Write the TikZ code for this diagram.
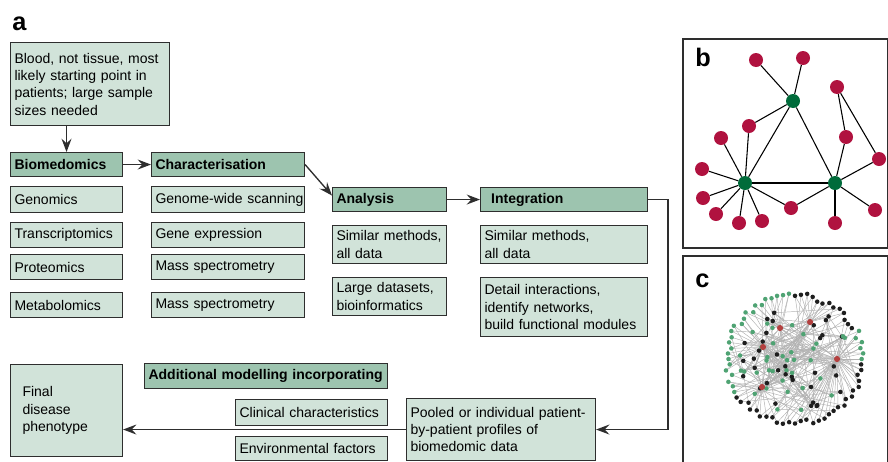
\documentclass[tikz,border=0pt]{standalone}
\usepackage{fontspec}
\setmainfont{Liberation Sans}
\usepackage{tikz}
\usetikzlibrary{arrows.meta}
\usetikzlibrary{positioning}

\definecolor{paleteal}{HTML}{D1E3D9}
\definecolor{headteal}{HTML}{9DC4AF}
\definecolor{edgegrey}{HTML}{2E2E2E}
\definecolor{leafred}{HTML}{B0123F}
\definecolor{hubgreen}{HTML}{006B3A}
\definecolor{dotgreen}{HTML}{4FA373}
\definecolor{dotblack}{HTML}{1E1E1E}
\definecolor{hubred}{HTML}{B3403F}
\definecolor{webgrey}{HTML}{B2B2B2}

\hyphenpenalty=10000
\exhyphenpenalty=10000

\tikzset{
	box/.style={draw=edgegrey, line width=0.8pt, fill=paleteal, anchor=north west, align=left, inner xsep=3pt, inner ysep=0pt, font=\fontsize{10.5}{13}\selectfont},
	head/.style={box, fill=headteal, font=\fontsize{10.5}{13}\selectfont\bfseries, minimum height=18pt},
	flow/.style={draw=edgegrey, line width=1pt, ->},
	panel/.style={anchor=base west, inner sep=0pt, font=\fontsize{19}{19}\selectfont\bfseries},
	frame/.style={draw=edgegrey, line width=0.9pt},
	hub/.style={circle, fill=hubgreen, minimum size=10.5pt, inner sep=0pt},
	leaf/.style={circle, fill=leafred, minimum size=10.5pt, inner sep=0pt},
	link/.style={draw=black, line width=0.8pt},
	web/.style={draw=webgrey, line width=0.35pt}
}

\begin{document}
\begin{tikzpicture}[x=0.75pt, y=-0.75pt, >={Stealth[length=10pt, width=7.5pt, inset=3.5pt]}]
	\useasboundingbox (0,0) rectangle (888,461);

	\node[panel] (la) at (12,30) {a};
	\node[panel] (lb) at (695,66) {b};
	\node[panel] (lc) at (695,287) {c};

	\node[box, text width=113.25pt, minimum height=62.25pt] (blood) at (10,42) {Blood, not tissue, most\\likely starting point in\\patients; large sample\\sizes needed};

	\node[head, text width=78pt] (bio) at (10,152) {Biomedomics};
	\node[head, text width=108.75pt] (char) at (151,152) {Characterisation};
	\node[box, text width=78pt, minimum height=19.5pt] (geno) at (10,186) {Genomics};
	\node[box, text width=78pt, minimum height=18.75pt] (trans) at (10,222) {Transcriptomics};
	\node[box, text width=78pt, minimum height=18.75pt] (prot) at (10,254) {Proteomics};
	\node[box, text width=78pt, minimum height=18.75pt] (meta) at (10,292) {Metabolomics};
	\node[box, text width=108.75pt, minimum height=19.5pt] (scan) at (151,186) {Genome-wide~scanning};
	\node[box, text width=108.75pt, minimum height=18.75pt] (expr) at (151,222) {Gene~expression};
	\node[box, text width=108.75pt, minimum height=18.75pt] (massa) at (151,254) {Mass~spectrometry};
	\node[box, text width=108.75pt, minimum height=18.75pt] (massb) at (151,292) {Mass~spectrometry};

	\node[head, text width=79.5pt] (ana) at (332,187) {Analysis};
	\node[head, text width=119.25pt] (int) at (480,187) {\hspace*{5pt}Integration};
	\node[box, text width=79.5pt, minimum height=28.5pt] (anasim) at (332,225) {Similar~methods,\\all data};
	\node[box, text width=79.5pt, minimum height=28.5pt] (anabig) at (332,277) {Large~datasets,\\bioinformatics};
	\node[box, text width=119.25pt, minimum height=28.5pt] (intsim) at (480,225) {Similar methods,\\all data};
	\node[box, text width=119.25pt, minimum height=44.25pt] (intdet) at (480,277) {Detail interactions,\\identify networks,\\build functional modules};

	\node[box, text width=66pt, inner xsep=9pt, minimum height=69pt] (final) at (10,364) {Final\\disease\\phenotype};
	\node[head, text width=176.25pt, minimum height=18.75pt] (extra) at (144,363) {Additional~modelling~incorporating};
	\node[box, text width=108pt, minimum height=19.5pt] (clin) at (235,399) {Clinical~characteristics};
	\node[box, text width=108pt, minimum height=18pt] (env) at (235,436) {Environmental~factors};
	\node[box, text width=135.75pt, minimum height=46.5pt] (pooled) at (406,398) {Pooled~or~individual~patient-\\by-patient profiles of\\biomedomic data};

	\draw[flow] (bio.north |- blood.south) -- (bio.north);
	\draw[flow] (bio) -- (char);
	\draw[flow] (char.east) -- ([yshift=3pt]ana.west);
	\draw[flow] (ana) -- (int);
	\draw[flow] (int.east) -- ++(20,0) |- (pooled.east);
	\draw[flow] (pooled.west) -- (pooled.west -| final.east);

	% panel b
	\draw[frame] (683,39) rectangle (887.5,248);
	\node[hub] (g1) at (793,101) {};
	\node[hub] (g2) at (745,183) {};
	\node[hub] (g3) at (835,183) {};
	\foreach \n/\x/\y in {1/756/60, 2/803/58, 3/837/87, 4/749/126, 5/721/138, 6/846/137, 7/879/159, 8/702/169, 9/703/198, 10/716/214, 11/739/223, 12/762/221, 13/791/208, 14/875/210, 15/835/223}
		\node[leaf] (r\n) at (\x,\y) {};
	\foreach \u/\v in {r1/g1, r2/g1, r4/g1, g1/g2, g1/g3, g2/g3, r4/g2, r5/g2, r8/g2, r9/g2, r10/g2, r11/g2, r12/g2, r13/g2, r13/g3, r6/g3, r6/r3, r3/r7, r7/g3, r14/g3, r15/g3}
		\draw[link] (\u) -- (\v);

	% panel c
	\draw[frame] (683,256) rectangle (887.5,470);
	\pgfmathsetseed{1234}
	\foreach \n/\x/\y in {1/780/328, 2/810/322, 3/763/347, 4/837/359, 5/762/387}
		\coordinate (h\n) at (\x,\y);
	\foreach \i in {1,...,72} {
		\pgfmathsetmacro\myr{1+0.05*rand}
		\pgfmathsetmacro\mya{5*\i}
		\coordinate (p\i) at ({795+68*\myr*cos(\mya)},{359-64*\myr*sin(\mya)});
	}
	\foreach \i in {1,...,70} {
		\pgfmathsetmacro\myr{0.85*sqrt(rnd)}
		\pgfmathsetmacro\mya{360*rnd}
		\coordinate (q\i) at ({795+68*\myr*cos(\mya)},{359-64*\myr*sin(\mya)});
	}
	\foreach \i in {1,...,72} {
		\pgfmathtruncatemacro\hub{\i<9 ? 4 : (\i<19 ? 2 : (\i<28 ? 1 : (\i<39 ? 3 : (\i<50 ? 5 : 4))))}
		\draw[web] (h\hub) -- (p\i);
	}
	\foreach \i in {1,...,70} {
		\pgfmathtruncatemacro\hub{1+mod(\i,5)}
		\pgfmathtruncatemacro\j{1+mod(7*\i+3,70)}
		\pgfmathtruncatemacro\k{1+mod(13*\i+5,72)}
		\draw[web] (h\hub) -- (q\i) -- (q\j);
		\draw[web] (q\i) -- (p\k);
	}
	\foreach \i in {1,...,72} {
		\pgfmathtruncatemacro\isg{or(\i<6, or(\i>71, and(\i>18, \i<43))) ? 1 : 0}
		\ifnum\isg=1 \def\dotc{dotgreen}\else\def\dotc{dotblack}\fi
		\fill[fill=\dotc] (p\i) circle (1.7pt);
	}
	\foreach \i in {1,...,70} {
		\pgfmathtruncatemacro\isg{mod(\i,2)}
		\ifnum\isg=1 \def\dotc{dotgreen}\else\def\dotc{dotblack}\fi
		\fill[fill=\dotc] (q\i) circle (1.7pt);
	}
	\foreach \n in {1,...,5}
		\fill[hubred] (h\n) circle (2.3pt);
\end{tikzpicture}
\end{document}
